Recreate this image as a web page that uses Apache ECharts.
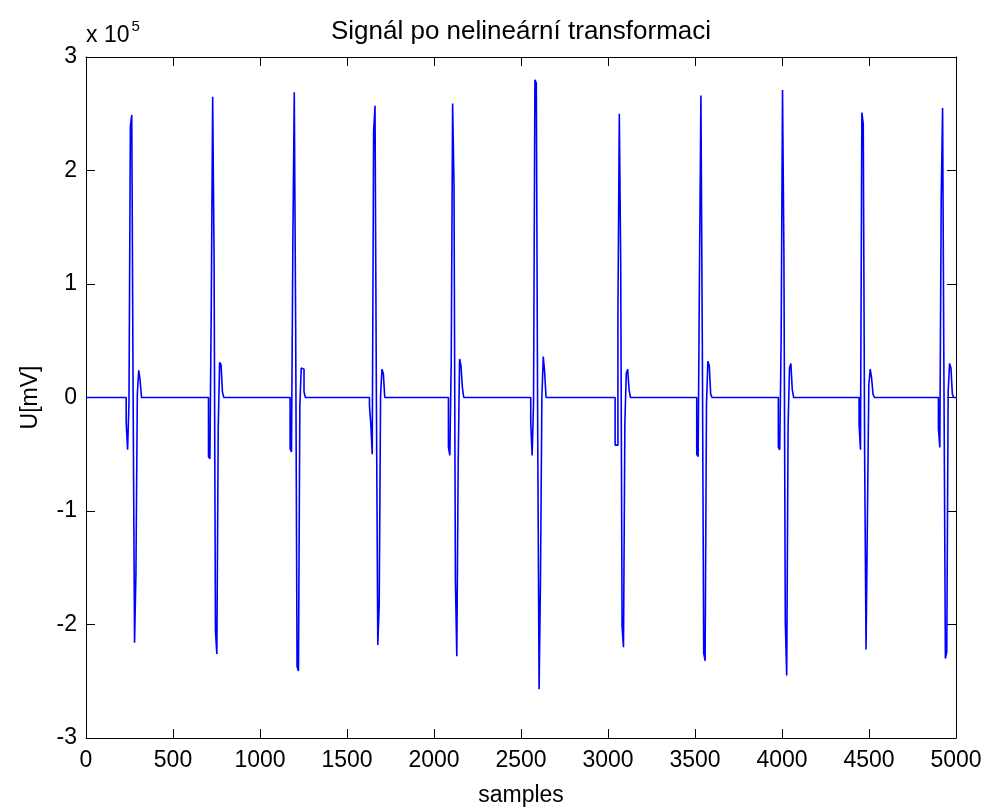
<!DOCTYPE html>
<html>
<head>
<meta charset="utf-8">
<title>Signál po nelineární transformaci</title>
<script src="https://cdn.jsdelivr.net/npm/echarts@6/dist/echarts.min.js"></script>
<style>
  html, body { margin: 0; padding: 0; background: #ffffff; }
  #chart { width: 985px; height: 812px; }
</style>
</head>
<body>
<div id="chart"></div>
<script>
// Transformed ECG signal, values in mV. Each beat is a run of samples
// starting at its onset sample, taken every SAMPLE_STEP samples.
const SAMPLE_COUNT = 5000;
const SAMPLE_STEP = 8;

const beatOnsets = [231, 704, 1173, 1629, 2083, 2556, 3041, 3510, 3979, 4443, 4899];

const beat01 = [-22000, -46000, -5000, 239000, 249000, -5000, -216000, -155000, 3000, 24000, 15000, 0];
const beat02 = [-52000, -54000, 81000, 265000, 124000, -206000, -226000, -26000, 31000, 29000, 5000, 0];
const beat03 = [-45000, -48000, 140000, 269000, 61000, -237000, -241000, -7000, 26000, 25000, 5000, 0];
const beat04 = [-7000, -24000, -50000, 234000, 257000, -3000, -218000, -183000, 2000, 25000, 21000, 0];
const beat05 = [-44000, -51000, 32000, 259000, 187000, -161000, -228000, -58000, 34000, 28000, 9000, 0];
const beat06 = [-22000, -51000, -5000, 280000, 277000, -30000, -257000, -159000, 0, 36000, 22000, 0];
const beat07 = [-42000, -42000, 73000, 250000, 118000, -202000, -220000, -22000, 21000, 25000, 7000, 0];
const beat08 = [-50000, -52000, 116000, 266000, 50000, -225000, -232000, -6000, 32000, 28000, 3000, 0];
const beat09 = [-44000, -46000, 50000, 271000, 126000, -198000, -245000, -26000, 26000, 30000, 7000, 0];
const beat10 = [-24000, -46000, 251000, 241000, -52000, -222000, -105000, 11000, 25000, 17000, 3000, 0];
const beat11 = [-27000, -44000, 175000, 255000, 7000, -230000, -224000, 5000, 30000, 26000, 3000, 0];

const beats = [beat01, beat02, beat03, beat04, beat05, beat06, beat07, beat08, beat09, beat10, beat11];

const xTickStep = 500;
const yMin = -300000;
const yMax = 300000;
const yTickStep = 100000;
const yScaleExponent = 5;

// Assemble [sample, value] pairs; the flat stretches between beats sit at 0.
const signal = [[0, 0]];
beats.forEach(function (values, i) {
  const onset = beatOnsets[i];
  values.forEach(function (v, k) {
    signal.push([onset + k * SAMPLE_STEP, v]);
  });
});
signal.push([SAMPLE_COUNT, 0]);

const FONT = '"Liberation Sans", Arial, Helvetica, sans-serif';
const TEXT_SIZE = 23;
const axisLine = { show: true, onZero: false, lineStyle: { color: '#000000', width: 1 } };
const innerTick = { show: true, inside: true, length: 9, lineStyle: { color: '#000000', width: 1 } };
const hidden = { show: false };

const chart = echarts.init(document.getElementById('chart'), null, { renderer: 'canvas' });

chart.setOption({
  backgroundColor: '#ffffff',
  animation: false,
  textStyle: { fontFamily: FONT, color: '#000000' },
  grid: { left: 86, right: 29, top: 57, bottom: 70, containLabel: false },
  xAxis: [
    {
      type: 'value',
      position: 'bottom',
      min: 0,
      max: SAMPLE_COUNT,
      interval: xTickStep,
      name: 'samples',
      nameLocation: 'middle',
      nameGap: 46,
      nameTextStyle: { fontSize: TEXT_SIZE, color: '#000000', fontFamily: FONT },
      axisLine: axisLine,
      axisTick: innerTick,
      splitLine: hidden,
      axisLabel: {
        fontSize: TEXT_SIZE, color: '#000000', margin: 11, fontFamily: FONT,
        formatter: function (v) { return String(v); }
      }
    },
    {
      // top frame edge, also carries the plot title
      type: 'value',
      position: 'top',
      min: 0,
      max: SAMPLE_COUNT,
      interval: xTickStep,
      name: 'Signál po nelineární transformaci',
      nameLocation: 'middle',
      nameGap: 12,
      nameTextStyle: { fontSize: 26, color: '#000000', fontFamily: FONT },
      axisLine: axisLine,
      axisTick: innerTick,
      splitLine: hidden,
      axisLabel: hidden
    }
  ],
  yAxis: [
    {
      type: 'value',
      position: 'left',
      min: yMin,
      max: yMax,
      interval: yTickStep,
      name: '{base|x 10}{sup|' + yScaleExponent + '}',
      nameLocation: 'end',
      nameGap: 5,
      nameTextStyle: {
        align: 'left',
        verticalAlign: 'bottom',
        rich: {
          base: { fontSize: TEXT_SIZE, fontFamily: FONT, color: '#000000' },
          sup: { fontSize: 15, fontFamily: FONT, color: '#000000', padding: [0, 0, 18, 2] }
        }
      },
      axisLine: axisLine,
      axisTick: innerTick,
      splitLine: hidden,
      axisLabel: {
        fontSize: TEXT_SIZE,
        color: '#000000',
        margin: 9,
        fontFamily: FONT,
        formatter: function (v) { return String(Math.round(v / Math.pow(10, yScaleExponent))); }
      }
    },
    {
      // right frame edge
      type: 'value',
      position: 'right',
      min: yMin,
      max: yMax,
      interval: yTickStep,
      axisLine: axisLine,
      axisTick: innerTick,
      splitLine: hidden,
      axisLabel: hidden
    },
    {
      // carries only the quantity label on the left side
      type: 'value',
      position: 'left',
      min: yMin,
      max: yMax,
      interval: yTickStep,
      name: 'U[mV]',
      nameLocation: 'middle',
      nameGap: 44,
      nameTextStyle: { fontSize: TEXT_SIZE, color: '#000000', fontFamily: FONT },
      axisLine: hidden,
      axisTick: hidden,
      splitLine: hidden,
      axisLabel: hidden
    }
  ],
  series: [
    {
      type: 'line',
      name: 'U',
      xAxisIndex: 0,
      yAxisIndex: 0,
      data: signal,
      step: 'end',
      showSymbol: false,
      symbol: 'none',
      lineStyle: { color: '#0000ff', width: 1.6 },
      z: 1
    }
  ]
});
</script>
</body>
</html>
